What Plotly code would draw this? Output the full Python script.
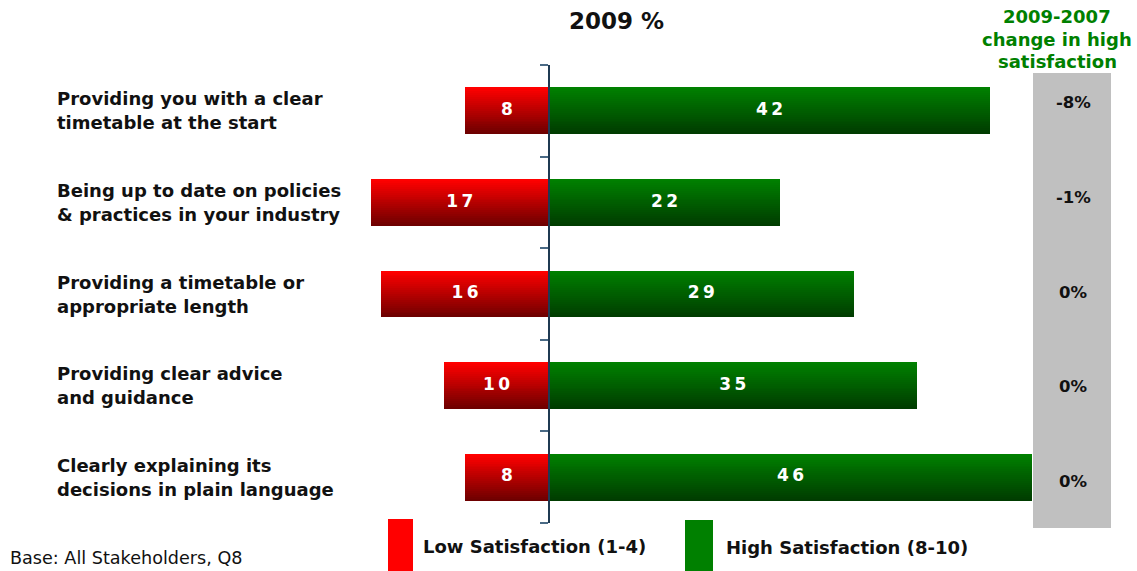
import plotly.graph_objects as go

# Survey items (top to bottom)
categories = [
    "Providing you with a clear\ntimetable at the start",
    "Being up to date on policies\n& practices in your industry",
    "Providing a timetable or\nappropriate length",
    "Providing clear advice\nand guidance",
    "Clearly explaining its\ndecisions in plain language",
]
low_sat = [8, 17, 16, 10, 8]          # Low Satisfaction (1-4), %
high_sat = [42, 22, 29, 35, 46]       # High Satisfaction (8-10), %
change_labels = ["-8%", "-1%", "0%", "0%", "0%"]  # 2009-2007 change in high satisfaction

W, H = 1137, 571
TOP, BOTTOM = 65, 523          # plot area, pixels from top
PH = BOTTOM - TOP
FONT = "DejaVu Sans"
ZERO_PX = 549
PX_PER_UNIT = 10.5

pos = list(range(len(categories)))
BAR_W = 0.51
N_STRIPS = 24


def py(px):
    """Pixel row (from top) to paper y."""
    return (BOTTOM - px) / PH


def px_x(px):
    return px / W


def lerp(c1, c2, t):
    return "rgb({},{},{})".format(*[round(a + (b - a) * t) for a, b in zip(c1, c2)])


fig = go.Figure()

# Vertical gradient on each bar, built from thin horizontal strips
for i in range(N_STRIPS):
    t = i / (N_STRIPS - 1)
    w = BAR_W / N_STRIPS
    off = -BAR_W / 2 + i * w
    fig.add_trace(go.Bar(
        y=pos, x=[-v for v in low_sat], orientation="h",
        width=w * 1.05, offset=off,
        marker=dict(color=lerp((255, 0, 0), (110, 0, 0), t), line=dict(width=0)),
        hoverinfo="skip", showlegend=False,
    ))
    fig.add_trace(go.Bar(
        y=pos, x=high_sat, orientation="h",
        width=w * 1.05, offset=off,
        marker=dict(color=lerp((0, 128, 0), (0, 60, 0), t), line=dict(width=0)),
        hoverinfo="skip", showlegend=False,
    ))


def spaced(v):
    return "\u2009".join(str(v))


# Value labels inside bars
fig.add_trace(go.Scatter(
    y=pos + pos,
    x=[-v / 2 for v in low_sat] + [v / 2 for v in high_sat],
    text=[spaced(v) for v in low_sat] + [spaced(v) for v in high_sat],
    mode="text",
    textfont=dict(family=FONT, size=17, color="white", weight="bold"),
    hoverinfo="skip", showlegend=False,
))

x_min = -ZERO_PX / PX_PER_UNIT
x_max = (W - ZERO_PX) / PX_PER_UNIT

fig.update_layout(
    width=W, height=H,
    margin=dict(l=0, r=0, t=TOP, b=H - BOTTOM, pad=0),
    paper_bgcolor="white", plot_bgcolor="white",
    barmode="overlay",
    bargap=0,
    xaxis=dict(range=[x_min, x_max], visible=False, fixedrange=True),
    yaxis=dict(
        range=[len(categories) - 0.5, -0.5],
        anchor="free", position=ZERO_PX / W,
        showline=True, linecolor="#1f3a52", linewidth=1.5,
        ticks="outside", ticklen=8, tickcolor="#4a6a85", tickwidth=1.5,
        tickvals=[p - 0.5 for p in pos] + [len(pos) - 0.5],
        showticklabels=False, showgrid=False, zeroline=False,
    ),
    showlegend=False,
)

# Grey column for the change figures
fig.add_shape(type="rect", xref="paper", yref="paper",
              x0=px_x(1033), x1=px_x(1111), y0=py(528), y1=py(73),
              fillcolor="#c0c0c0", line=dict(width=0), layer="below")

annotations = []
for p, cat in zip(pos, categories):
    l1, l2 = cat.split("\n")
    for txt, shift in ((l1, 12), (l2, -12)):
        annotations.append(dict(
            x=px_x(55), xref="paper", y=p, yref="y", yshift=shift,
            text=txt, showarrow=False, xanchor="left", yanchor="middle",
            font=dict(family=FONT, size=18, color="#111111", weight="bold"),
        ))

# Change column rows are spaced evenly inside the grey column
for i, ch in enumerate(change_labels):
    annotations.append(dict(
        x=px_x(1073), xref="paper", y=py(103 + i * 94.5), yref="paper",
        text=ch, showarrow=False, xanchor="center", yanchor="middle",
        font=dict(family=FONT, size=16.5, color="#111111", weight="bold"),
    ))

# Titles
annotations.append(dict(x=px_x(616), xref="paper", y=py(21), yref="paper",
                        text="2009 %", showarrow=False, xanchor="center", yanchor="middle",
                        font=dict(family=FONT, size=23, color="#111111", weight="bold")))
for txt, ypx in (("2009-2007", 17), ("change in high", 40), ("satisfaction", 62)):
    annotations.append(dict(x=px_x(1057), xref="paper", y=py(ypx), yref="paper",
                            text=txt, showarrow=False, xanchor="center", yanchor="middle",
                            font=dict(family=FONT, size=18, color="#008000", weight="bold")))

# Legend
fig.add_shape(type="rect", xref="paper", yref="paper",
              x0=px_x(388), x1=px_x(413), y0=py(571), y1=py(519),
              fillcolor="#ff0000", line=dict(width=0))
fig.add_shape(type="rect", xref="paper", yref="paper",
              x0=px_x(685), x1=px_x(713), y0=py(571), y1=py(520),
              fillcolor="#008000", line=dict(width=0))
annotations.append(dict(x=px_x(421), xref="paper", y=py(546), yref="paper",
                        text="Low Satisfaction (1-4)", showarrow=False,
                        xanchor="left", yanchor="middle",
                        font=dict(family=FONT, size=18, color="#111111", weight="bold")))
annotations.append(dict(x=px_x(724), xref="paper", y=py(547), yref="paper",
                        text="High Satisfaction (8-10)", showarrow=False,
                        xanchor="left", yanchor="middle",
                        font=dict(family=FONT, size=18, color="#111111", weight="bold")))

# Footnote
annotations.append(dict(x=px_x(8), xref="paper", y=py(558), yref="paper",
                        text="Base: All Stakeholders, Q8", showarrow=False,
                        xanchor="left", yanchor="middle",
                        font=dict(family=FONT, size=17.6, color="#111111")))

fig.update_layout(annotations=annotations)
fig.write_html("out.html")
